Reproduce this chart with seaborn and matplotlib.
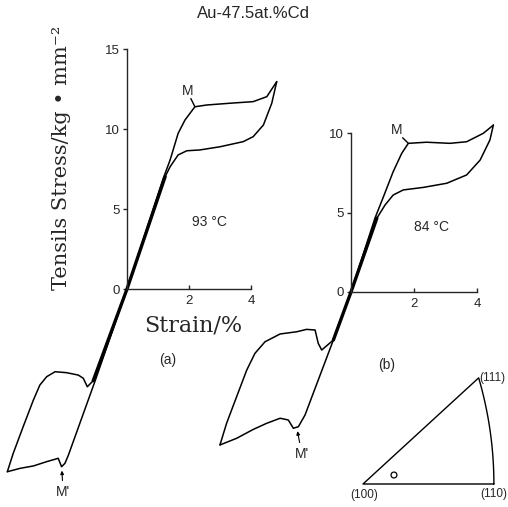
"""
Stress-strain hysteresis loops of Au-47.5at.%Cd, tension and compression (a) 93 C, (b) 84 C
"""

import numpy as np
import pandas as pd
import matplotlib.pyplot as plt
import seaborn as sns

# ---- data (strain %, stress kg/mm2) ----
# panel (a), 93 C
a_ten_load_x = [0, 1.17, 1.39, 1.65, 1.87, 2.19, 2.57, 3.32, 4.07, 4.51, 4.83]
a_ten_load_y = [0, 6.92, 8.06, 9.73, 10.56, 11.39, 11.5, 11.61, 11.71, 12.02, 12.96]
a_ten_unload_x = [4.83, 4.67, 4.40, 4.07, 3.75, 3.0, 2.35, 1.93, 1.65, 1.39, 1.23]
a_ten_unload_y = [12.96, 11.61, 10.25, 9.52, 9.21, 8.89, 8.69, 8.64, 8.38, 7.64, 7.02]
a_com_load_x = [0, -1.03, -1.89, -2.0, -2.11, -2.22, -2.32, -2.59, -3.02, -3.45, -3.86]
a_com_load_y = [0, -5.75, -10.38, -10.89, -11.11, -10.58, -10.64, -10.79, -11.06, -11.21, -11.42]
a_com_unload_x = [-3.86, -3.67, -3.35, -3.02, -2.81, -2.59, -2.32, -1.95, -1.57, -1.41, -1.28, -1.09]
a_com_unload_y = [-11.42, -10.27, -8.61, -6.94, -6.0, -5.48, -5.17, -5.23, -5.38, -5.58, -6.11, -5.73]

# panel (b), 84 C
b_ten_load_x = [0, 0.76, 1.03, 1.34, 1.61, 1.82, 2.40, 3.14, 3.67, 4.2, 4.52]
b_ten_load_y = [0, 4.64, 5.99, 7.57, 8.72, 9.35, 9.42, 9.35, 9.45, 9.98, 10.5]
b_ten_unload_x = [4.52, 4.41, 4.10, 3.67, 3.04, 2.30, 1.66, 1.34, 1.08, 0.82]
b_ten_unload_y = [10.5, 9.56, 8.3, 7.36, 6.84, 6.58, 6.42, 6.1, 5.47, 4.64]
b_com_load_x = [0, -0.56, -1.46, -1.67, -1.83, -1.99, -2.25, -2.68, -3.1, -3.63, -4.16]
b_com_load_y = [0, -3.02, -7.74, -8.47, -8.57, -8.05, -7.94, -8.26, -8.64, -9.2, -9.62]
b_com_unload_x = [-4.16, -3.95, -3.63, -3.31, -3.05, -2.73, -2.25, -1.72, -1.41, -1.14, -1.04, -0.93, -0.56]
b_com_unload_y = [-9.62, -8.26, -6.58, -4.91, -3.86, -3.13, -2.64, -2.5, -2.35, -2.39, -3.23, -3.65, -3.02]

temps = ["93 °C", "84 °C"]
panel_tags = ["(a)", "(b)"]
y_max = [15, 10]
x_ticks = [2, 4]

# stereographic triangle: corner directions and specimen axis (projected)
tri_labels = ["(100)", "(110)", "(111)"]
tri_dirs = [(1, 0, 0), (1, 1, 0), (1, 1, 1)]
spec_x, spec_y = [0.098], [0.031]

W, H = 508, 507
sns.set_style("ticks")
plt.rcParams["font.family"] = ["Liberation Sans", "DejaVu Sans"]
fig = plt.figure(figsize=(W / 100, H / 100), dpi=100)


def add_panel(origin, scale, box):
    # axes whose data origin / scale land where the printed figure has them
    ox, oy = origin
    sx, sy = scale
    l, t, r, b = box
    ax = fig.add_axes([l / W, 1 - b / H, (r - l) / W, (b - t) / H])
    ax.set_xlim((l - ox) / sx, (r - ox) / sx)
    ax.set_ylim((oy - b) / sy, (oy - t) / sy)
    ax.patch.set_alpha(0)
    return ax


def curve(ax, x, y, lw=1.1):
    df = pd.DataFrame({"strain": x, "stress": y})
    sns.lineplot(data=df, x="strain", y="stress", sort=False, estimator=None,
                 color="black", lw=lw, ax=ax)


def style_axes(ax, ymax):
    for s in ["top", "right"]:
        ax.spines[s].set_visible(False)
    for s in ["left", "bottom"]:
        ax.spines[s].set_position(("data", 0))
        ax.spines[s].set_linewidth(1.0)
    ax.spines["left"].set_bounds(0, ymax)
    ax.spines["bottom"].set_bounds(0, x_ticks[-1])
    ax.set_yticks(np.arange(0, ymax + 1, 5))
    ax.set_yticklabels([str(v) for v in np.arange(0, ymax + 1, 5)])
    ax.set_xticks(x_ticks)
    ax.tick_params(axis="y", direction="out", length=3, width=1, labelsize=9.5, pad=2)
    ax.tick_params(axis="x", direction="in", length=3, width=1, labelsize=9.5, pad=4)
    ax.set_xlabel("")
    ax.set_ylabel("")


ax_a = add_panel((127, 289), (31, 16), (0, 30, 290, 507))
ax_b = add_panel((351, 292), (31.5, 15.9), (200, 30, 508, 507))

panels = [
    (ax_a, a_ten_load_x, a_ten_load_y, a_ten_unload_x, a_ten_unload_y,
     a_com_load_x, a_com_load_y, a_com_unload_x, a_com_unload_y),
    (ax_b, b_ten_load_x, b_ten_load_y, b_ten_unload_x, b_ten_unload_y,
     b_com_load_x, b_com_load_y, b_com_unload_x, b_com_unload_y),
]

for i, (ax, tlx, tly, tux, tuy, clx, cly, cux, cuy) in enumerate(panels):
    curve(ax, tlx, tly)
    curve(ax, tux, tuy)
    curve(ax, clx, cly)
    curve(ax, cux, cuy)
    # elastic part, run over both ways -> heavier line
    curve(ax, [cux[-1], 0, tux[-1]], [cuy[-1], 0, tuy[-1]], lw=2.4)
    style_axes(ax, y_max[i])

tick_line = dict(arrowstyle="-", lw=1.0, shrinkA=0, shrinkB=0, color="black")
up_arrow = dict(arrowstyle="-|>", lw=0.8, mutation_scale=5, shrinkA=1, shrinkB=0,
                color="black")

# annotations panel (a): M = start of forward transformation, M' its compressive twin
ax_a.text(1.95, 12.4, "M", ha="center", va="center", fontsize=10)
ax_a.annotate("", xy=(2.19, 11.39), xytext=(2.06, 11.9), arrowprops=tick_line)
ax_a.annotate("M'", xy=(-2.1, -11.35), xytext=(-2.06, -12.7), ha="center", va="center",
              fontsize=10, arrowprops=up_arrow)
ax_a.text(2.65, 4.2, temps[0], ha="center", va="center", fontsize=10)
ax_a.text(1.32, -4.45, panel_tags[0], ha="center", va="center", fontsize=10)
ax_a.text(2.13, -2.3, "Strain/%", ha="center", va="center", fontsize=16,
          family="DejaVu Serif")
ax_a.text(-2.1, 8.2, "Tensils Stress/kg • mm⁻²", ha="center", va="center",
          rotation=90, fontsize=15, family="DejaVu Serif")

# annotations panel (b)
ax_b.text(1.45, 10.2, "M", ha="center", va="center", fontsize=10)
ax_b.annotate("", xy=(1.82, 9.35), xytext=(1.64, 9.7), arrowprops=tick_line)
ax_b.annotate("M'", xy=(-1.7, -8.75), xytext=(-1.56, -10.2), ha="center", va="center",
              fontsize=10, arrowprops=up_arrow)
ax_b.text(2.57, 4.1, temps[1], ha="center", va="center", fontsize=10)
ax_b.text(1.14, -4.6, panel_tags[1], ha="center", va="center", fontsize=10)

fig.text(253 / W, 1 - 13 / H, "Au-47.5at.%Cd", ha="center", va="center", fontsize=12)

# stereographic unit triangle (scan is slightly squashed vertically)
ax_t = add_panel((363, 484), (316, 290), (330, 360, 508, 507))
ax_t.axis("off")


def proj(v):
    v = np.asarray(v, float)
    v = v / np.linalg.norm(v)
    return v[1] / (1 + v[0]), v[2] / (1 + v[0])


corners = [proj(d) for d in tri_dirs]
arc = [proj((1, 1, t)) for t in np.linspace(0, 1, 30)]
edge_x = [corners[1][0], corners[0][0], corners[2][0]] + [p[0] for p in arc[::-1]]
edge_y = [corners[1][1], corners[0][1], corners[2][1]] + [p[1] for p in arc[::-1]]
curve(ax_t, edge_x, edge_y, lw=1.0)
sns.scatterplot(x=spec_x, y=spec_y, marker="o", s=18, facecolor="none",
                edgecolor="black", linewidth=0.9, ax=ax_t)
offsets = [(1, -8), (0, -7), (10, 0)]
for lab, c, off in zip(tri_labels, corners, offsets):
    ax_t.annotate(lab, xy=c, xytext=off, textcoords="offset points",
                  ha="center", va="center", fontsize=8.5)

fig.savefig("out.png", dpi=100, facecolor="white")
